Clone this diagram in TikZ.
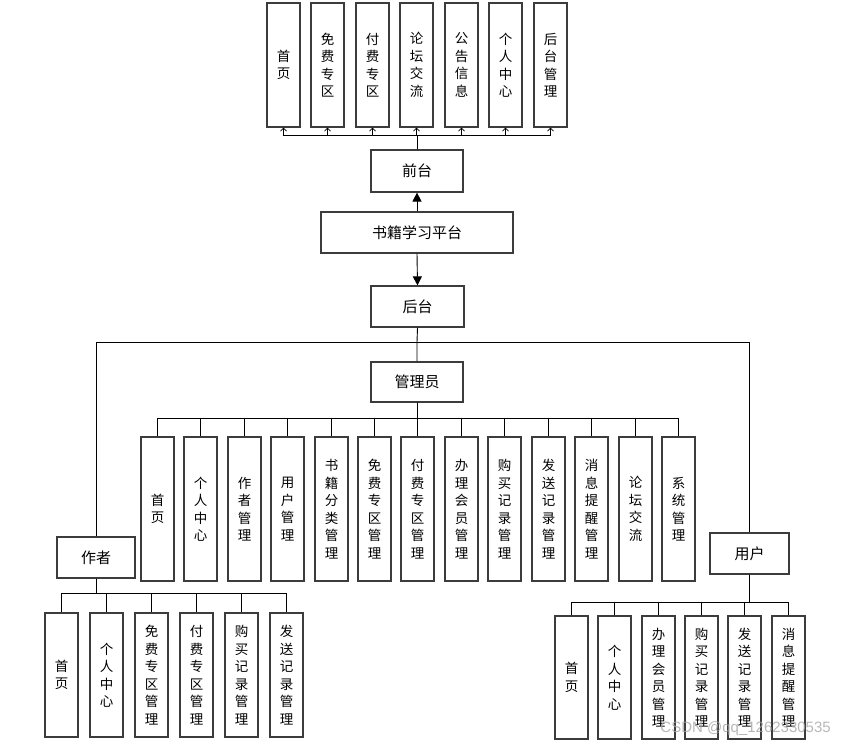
\documentclass[tikz,border=0pt]{standalone}
\usepackage{fontspec}
\newfontfamily\cjk{Noto Sans CJK SC}
\setsansfont{Liberation Sans}
\usetikzlibrary{arrows.meta}
\definecolor{boxgray}{HTML}{3C3C3C}
\tikzset{
  tallbox/.style={draw=boxgray, line width=1.2pt, fill=white, minimum width=33pt, inner sep=0pt, align=center,
    font=\cjk\fontsize{13.5}{17.5}\selectfont},
  mainbox/.style={draw=boxgray, line width=1.2pt, fill=white, inner sep=0pt, align=center,
    font=\cjk\fontsize{15}{17}\selectfont},
  conn/.style={line width=0.9pt, draw=black},
  uparrow/.style={conn, -{Straight Barb[length=3pt,width=6pt,line width=0.7pt]}},
  bigarrow/.style={conn, -{Triangle[length=9pt,width=9pt]}}
}
\begin{document}
\begin{tikzpicture}[x=1pt,y=-1pt]
\useasboundingbox (0,0) rectangle (846,749);
% main boxes
\node[mainbox, minimum width=92pt, minimum height=42pt] (qt) at (417,171) {前台};
\node[mainbox, minimum width=192pt, minimum height=41pt] (pt) at (417,232.5) {书籍学习平台};
\node[mainbox, minimum width=93pt, minimum height=41pt] (ht) at (417.5,306.5) {后台};
\node[mainbox, minimum width=92pt, minimum height=40pt] (gly) at (417,382) {管理员};
\node[mainbox, minimum width=78pt, minimum height=41pt] (zz) at (96,557.5) {作者};
\node[mainbox, minimum width=79pt, minimum height=41pt] (yh) at (749.5,553.5) {用户};
% bus coordinates
\coordinate (tbus) at (417,135);
\coordinate (hbus) at (417,342);
\coordinate (abus) at (417,418);
\coordinate (zbus) at (96,593);
\coordinate (ubus) at (749.5,602);
% top boxes
\foreach \x/\t [count=\i] in {283.5/{首\\页}, 327.5/{免\\费\\专\\区}, 372.5/{付\\费\\专\\区}, 416.5/{论\\坛\\交\\流}, 461.5/{公\\告\\信\\息}, 505.5/{个\\人\\中\\心}, 550.5/{后\\台\\管\\理}}{
  \node[tallbox, minimum height=124pt] (t\i) at (\x,65) {\t};
  \draw[uparrow] (qt.north) -- (tbus) -| (t\i.south);
}
% admin boxes
\foreach \x/\t [count=\i] in {157.5/{首\\页}, 200.5/{个\\人\\中\\心}, 244.5/{作\\者\\管\\理}, 287.5/{用\\户\\管\\理}, 331.5/{书\\籍\\分\\类\\管\\理}, 374.5/{免\\费\\专\\区\\管\\理}, 417.5/{付\\费\\专\\区\\管\\理}, 461.5/{办\\理\\会\\员\\管\\理}, 504.5/{购\\买\\记\\录\\管\\理}, 548.5/{发\\送\\记\\录\\管\\理}, 591.5/{消\\息\\提\\醒\\管\\理}, 635.5/{论\\坛\\交\\流}, 678.5/{系\\统\\管\\理}}{
  \node[tallbox, minimum height=144pt] (a\i) at (\x,509) {\t};
  \draw[conn] (gly.south) -- (abus) -| (a\i.north);
}
% author boxes
\foreach \x/\t [count=\i] in {61.5/{首\\页}, 106.5/{个\\人\\中\\心}, 151.5/{免\\费\\专\\区\\管\\理}, 196.5/{付\\费\\专\\区\\管\\理}, 241.5/{购\\买\\记\\录\\管\\理}, 286.5/{发\\送\\记\\录\\管\\理}}{
  \node[tallbox, minimum height=124pt] (z\i) at (\x,675) {\t};
  \draw[conn] (zz.south) -- (zbus) -| (z\i.north);
}
% user boxes
\foreach \x/\t [count=\i] in {571.5/{首\\页}, 614.5/{个\\人\\中\\心}, 658.5/{办\\理\\会\\员\\管\\理}, 701.5/{购\\买\\记\\录\\管\\理}, 744.5/{发\\送\\记\\录\\管\\理}, 788.5/{消\\息\\提\\醒\\管\\理}}{
  \node[tallbox, minimum height=123pt] (u\i) at (\x,677.5) {\t};
  \draw[conn] (yh.south) -- (ubus) -| (u\i.north);
}
% platform arrows
\draw[bigarrow] (pt.north) -- (qt.south);
\draw[bigarrow] (pt.south) -- (ht.north);
% backend split
\draw[conn] (ht.south) -- (hbus) -- (gly.north);
\draw[conn] (hbus) -| (zz.north);
\draw[conn] (hbus) -| (yh.north);
% watermark
\node[font=\sffamily\fontsize{15}{15}\selectfont, text=gray!70, opacity=0.8, anchor=east, inner sep=0pt] (wm) at (831,729) {CSDN @qq\_1262330535};
\end{tikzpicture}
\end{document}
